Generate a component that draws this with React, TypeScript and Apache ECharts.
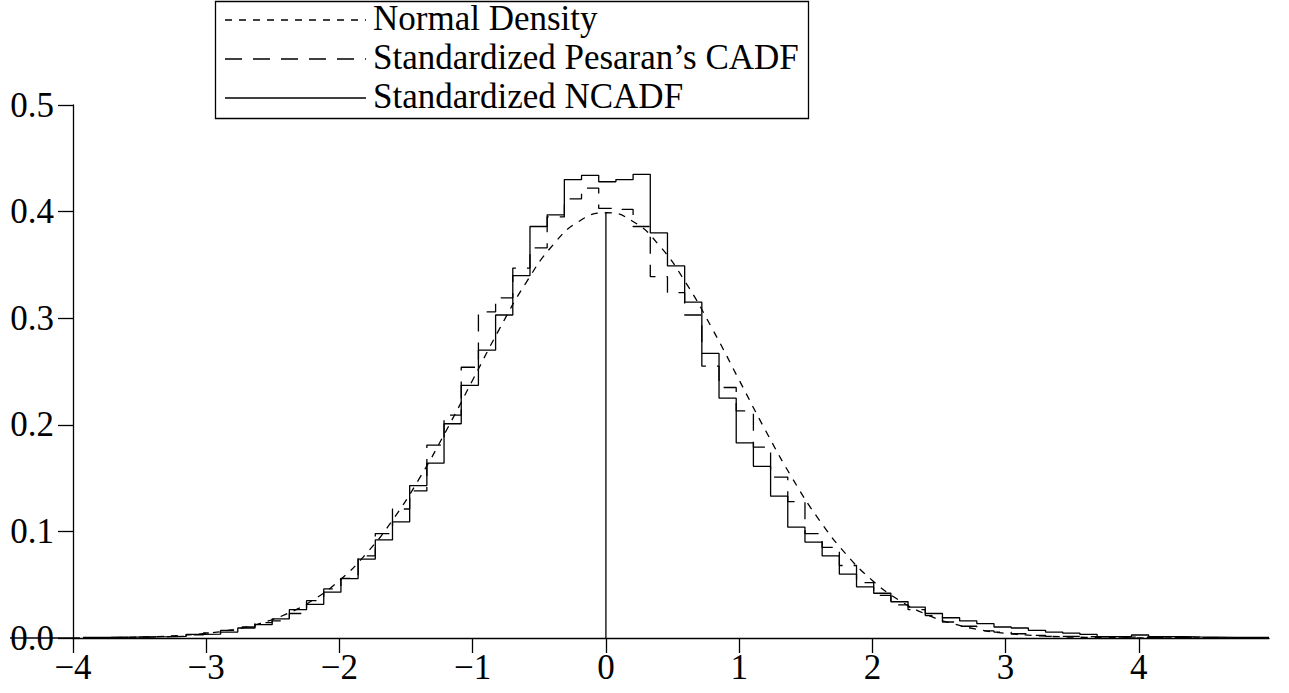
import React, { useEffect, useRef } from "react";
import * as echarts from "echarts";

// Histogram bins (left edge of first bin and bin width)
const BIN_START = -3.924;
const BIN_WIDTH = 0.129;

// Standardized NCADF histogram heights (density)
const NCADF = [
  0.0005, 0.0006, 0.0008, 0.001, 0.0012, 0.0016, 0.0034, 0.0036, 0.0056, 0.0094,
  0.0125, 0.018, 0.0266, 0.0316, 0.043, 0.0557, 0.074, 0.092, 0.109, 0.143,
  0.164, 0.201, 0.237, 0.27, 0.303, 0.34, 0.386, 0.397, 0.43, 0.434,
  0.428, 0.43, 0.435, 0.38, 0.349, 0.315, 0.267, 0.225, 0.183, 0.161,
  0.133, 0.104, 0.09, 0.077, 0.06, 0.048, 0.042, 0.034, 0.029, 0.023,
  0.019, 0.016, 0.0134, 0.0103, 0.0094, 0.0072, 0.0056, 0.0045, 0.0034, 0.0013,
  0.0013, 0.0028, 0.0013, 0.0013, 0.001, 0.0008, 0.0006, 0.0006, 0.0005,
];

// Standardized Pesaran's CADF histogram heights (density)
const CADF = [
  0.0004, 0.0005, 0.0007, 0.0009, 0.0012, 0.0016, 0.003, 0.0047, 0.0072, 0.0103,
  0.0144, 0.016, 0.023, 0.035, 0.046, 0.056, 0.077, 0.098, 0.121, 0.138,
  0.181, 0.209, 0.254, 0.306, 0.319, 0.347, 0.366, 0.395, 0.412, 0.422,
  0.403, 0.402, 0.386, 0.339, 0.324, 0.303, 0.255, 0.235, 0.213, 0.179,
  0.151, 0.128, 0.098, 0.085, 0.068, 0.052, 0.04, 0.031, 0.0266, 0.021,
  0.015, 0.011, 0.0066, 0.0056, 0.004, 0.0025, 0.0016, 0.0016, 0.0012, 0.001,
  0.0008, 0.0007, 0.0006, 0.0005, 0.0004, 0.0003, 0.0003, 0.0002, 0.0002,
];

// Normal density curve, read at these x positions
const NORMAL_X = [
  -4.0, -3.8, -3.6, -3.4, -3.2, -3.0, -2.8, -2.6, -2.4, -2.2, -2.0, -1.8, -1.6, -1.4, -1.2, -1.0,
  -0.8, -0.6, -0.4, -0.2, 0.0, 0.2, 0.4, 0.6, 0.8, 1.0, 1.2, 1.4, 1.6, 1.8, 2.0, 2.2, 2.4, 2.6,
  2.8, 3.0, 3.2, 3.4, 3.6, 3.8, 4.0, 4.2, 4.4, 4.6, 4.8,
];
const NORMAL_Y = [
  0.0001, 0.0003, 0.0006, 0.0012, 0.0024, 0.0044, 0.0079, 0.0136, 0.0224, 0.0355, 0.054, 0.079,
  0.1109, 0.1497, 0.1942, 0.242, 0.2897, 0.3332, 0.3683, 0.391, 0.3989, 0.391, 0.3683, 0.3332,
  0.2897, 0.242, 0.1942, 0.1497, 0.1109, 0.079, 0.054, 0.0355, 0.0224, 0.0136, 0.0079, 0.0044,
  0.0024, 0.0012, 0.0006, 0.0003, 0.0001, 0.0001, 0.0, 0.0, 0.0,
];

const X_TICKS = [-4, -3, -2, -1, 0, 1, 2, 3, 4];
const PEAK_LINE = [[0, 0], [0, 0.3989]];

const LEGEND = ["Normal Density", "Standardized Pesaran\u2019s CADF", "Standardized NCADF"];

const FONT = '"Liberation Serif", "Times New Roman", serif';

function histPoints(vals: number[]) {
  const pts: number[][] = vals.map((v, i) => [BIN_START + i * BIN_WIDTH, v]);
  pts.push([BIN_START + vals.length * BIN_WIDTH, vals[vals.length - 1]]);
  return pts;
}

export default function App() {
  const ref = useRef<HTMLDivElement>(null);
  useEffect(() => {
    if (!ref.current) return;
    const chart = echarts.init(ref.current, null, { renderer: "svg" });
    const xMax = BIN_START + NCADF.length * BIN_WIDTH;
    const black = "#000";
    const lw = 1.3;
    const rows = [18, 57, 96];
    const normalDash = [7, 7];
    const cadfDash = [17, 11];
    const dashes: any[] = [normalDash, cadfDash, null];
    chart.setOption({
      animation: false,
      backgroundColor: "#fff",
      grid: { left: 73, right: 1289 - 1269, top: 105, bottom: 693 - 638, containLabel: false, outerBoundsMode: "none" },
      xAxis: {
        type: "value",
        min: -4,
        max: xMax,
        splitLine: { show: false },
        axisLine: { show: true, onZero: false, lineStyle: { color: black, width: lw } },
        axisTick: { show: true, inside: false, length: 15, customValues: X_TICKS, lineStyle: { color: black, width: lw } },
        axisLabel: {
          customValues: X_TICKS,
          formatter: (v: number) => (v < 0 ? "\u2212" + Math.abs(v) : String(v)),
          color: black,
          fontFamily: FONT,
          fontSize: 35,
          margin: 12,
        },
      },
      yAxis: {
        type: "value",
        min: 0,
        max: 0.5,
        interval: 0.1,
        splitLine: { show: false },
        axisLine: { show: true, onZero: false, lineStyle: { color: black, width: lw } },
        axisTick: { show: true, inside: false, length: 15, lineStyle: { color: black, width: lw } },
        axisLabel: {
          formatter: (v: number) => v.toFixed(1),
          color: black,
          fontFamily: FONT,
          fontSize: 35,
          margin: 19,
        },
      },
      series: [
        {
          name: LEGEND[0],
          type: "line",
          data: NORMAL_X.map((x, i) => [x, NORMAL_Y[i]]),
          smooth: true,
          showSymbol: false,
          lineStyle: { color: black, width: lw, type: normalDash },
        },
        {
          name: LEGEND[1],
          type: "line",
          step: "end",
          data: histPoints(CADF),
          showSymbol: false,
          lineStyle: { color: black, width: lw, type: cadfDash },
        },
        {
          name: LEGEND[2],
          type: "line",
          step: "end",
          data: histPoints(NCADF),
          showSymbol: false,
          lineStyle: { color: black, width: lw, type: "solid" },
        },
        {
          name: "peak",
          type: "line",
          data: PEAK_LINE,
          showSymbol: false,
          lineStyle: { color: black, width: lw },
        },
      ],
      graphic: [
        { type: "line", shape: { x1: 10, y1: 638, x2: 73, y2: 638 }, style: { stroke: black, lineWidth: lw } },
        {
          type: "rect",
          shape: { x: 215.5, y: 1.5, width: 593, height: 117 },
          style: { fill: "#fff", stroke: black, lineWidth: lw },
          z: 10,
        },
        ...LEGEND.map((t, i) => ({
          type: "line",
          z: 11,
          shape: { x1: 225, y1: rows[i] + 2, x2: 366, y2: rows[i] + 2 },
          style: { stroke: black, lineWidth: lw, lineDash: dashes[i] },
        })),
        ...LEGEND.map((t, i) => ({
          type: "text",
          z: 11,
          x: 373,
          y: rows[i],
          style: { text: t, fill: black, font: `35px ${FONT}`, verticalAlign: "middle", align: "left" },
        })),
      ],
    });
    return () => chart.dispose();
  }, []);
  return <div ref={ref} style={{ position: "absolute", left: 0, top: 0, width: 1289, height: 693 }} />;
}
